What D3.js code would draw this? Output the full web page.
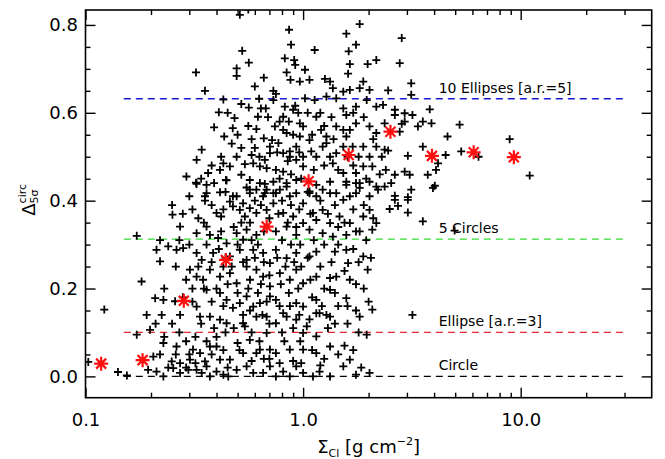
<!DOCTYPE html>
<html>
<head>
<meta charset="utf-8">
<script src="https://d3js.org/d3.v7.min.js"></script>
<style>
body { margin: 0; background: #fff; }
</style>
</head>
<body>
<div id="chart"></div>
<script>

// cloud of individual measurements: [Sigma_Cl (g cm^-2), Delta_5sigma^circ]
var cloudPoints = [
  [0.512,0.823],[0.56,0.835],[0.862,0.789],[0.88,0.755],[1.13,0.743],[1.82,0.802],[1.58,0.78],[1.75,0.755],[1.62,0.74],[0.525,0.741],
  [0.563,0.714],[0.495,0.701],[0.495,0.684],[0.322,0.692],[0.824,0.724],[0.91,0.72],[0.92,0.709],[1.02,0.698],[0.84,0.692],[0.875,0.675],
  [0.966,0.671],[1.07,0.675],[1.26,0.677],[1.33,0.671],[1.61,0.689],[1.64,0.711],[1.98,0.711],[2.17,0.72],[1.89,0.671],[0.354,0.65],
  [0.41,0.601],[0.484,0.588],[0.39,0.567],[0.434,0.546],[0.475,0.565],[0.563,0.612],[0.628,0.632],[0.64,0.61],[0.73,0.65],[0.75,0.643],
  [0.824,0.614],[0.92,0.616],[0.73,0.629],[0.674,0.61],[0.81,0.591],[0.9,0.607],[1.02,0.633],[1.13,0.629],[1.15,0.591],[1.28,0.637],
  [1.37,0.656],[1.42,0.633],[1.53,0.648],[1.64,0.652],[1.82,0.656],[2.02,0.652],[1.53,0.61],[1.58,0.595],[1.75,0.614],[1.96,0.629],
  [2.17,0.614],[0.56,0.57],[0.62,0.591],[0.61,0.563],[0.742,0.569],[0.81,0.561],[0.66,0.542],[0.72,0.538],[0.84,0.554],[0.9,0.55],
  [0.966,0.576],[1.0,0.569],[0.966,0.546],[1.07,0.538],[1.21,0.561],[1.28,0.546],[1.42,0.569],[1.53,0.561],[1.64,0.561],[1.75,0.576],
  [2.02,0.569],[2.17,0.554],[0.342,0.516],[0.324,0.493],[0.495,0.5],[0.43,0.485],[0.415,0.47],[0.461,0.478],[0.366,0.463],[0.291,0.455],
  [0.322,0.441],[0.36,0.436],[0.442,0.447],[0.52,0.459],[0.54,0.483],[0.58,0.504],[0.59,0.485],[0.633,0.478],[0.667,0.493],[0.704,0.523],
  [0.77,0.531],[0.81,0.508],[0.869,0.512],[0.93,0.523],[0.704,0.508],[0.68,0.474],[0.75,0.47],[0.81,0.466],[0.869,0.5],[0.93,0.493],
  [1.0,0.5],[1.0,0.478],[1.09,0.512],[1.15,0.5],[1.23,0.523],[1.28,0.531],[1.33,0.5],[1.42,0.508],[1.53,0.523],[1.58,0.546],
  [1.69,0.523],[1.89,0.523],[2.02,0.5],[2.17,0.523],[1.37,0.485],[1.89,0.478],[2.08,0.478],[1.75,0.463],[1.53,0.463],[0.569,0.447],
  [0.633,0.44],[0.68,0.425],[0.73,0.443],[0.84,0.432],[0.93,0.447],[1.15,0.436],[1.23,0.425],[1.33,0.443],[1.58,0.443],[1.82,0.44],
  [2.02,0.443],[2.21,0.425],[0.36,0.417],[0.415,0.419],[0.476,0.41],[0.569,0.425],[0.655,0.41],[0.75,0.417],[0.869,0.41],[1.07,0.417],
  [1.42,0.417],[1.75,0.417],
  [0.324,0.438],[0.445,0.446],[0.354,0.41],[0.354,0.40],[0.461,0.398],[0.495,0.41],[0.53,0.394],[0.569,0.417],[0.61,0.425],[0.667,0.438],
  [0.667,0.417],[0.73,0.417],[0.782,0.425],[0.84,0.44],[0.93,0.417],[1.0,0.394],[1.07,0.421],[1.15,0.41],[1.33,0.417],[1.53,0.402],
  [1.64,0.41],[1.82,0.429],[2.02,0.41],[2.17,0.432],[1.58,0.436],[1.75,0.44],
  [0.251,0.368],[0.272,0.341],[0.33,0.36],[0.36,0.341],[0.40,0.372],[0.42,0.364],[0.476,0.387],[0.512,0.379],[0.54,0.364],[0.569,0.383],
  [0.61,0.372],[0.68,0.379],[0.73,0.394],[0.81,0.372],[0.90,0.364],[1.0,0.349],[1.11,0.372],[1.15,0.356],[1.23,0.379],[1.33,0.349],
  [1.47,0.364],[1.64,0.349],[1.89,0.364],[2.17,0.349],[2.02,0.379],
  [0.172,0.32],[0.324,0.326],[0.373,0.322],[0.407,0.315],[0.445,0.303],[0.495,0.326],[0.53,0.311],[0.55,0.334],[0.61,0.322],[0.75,0.33],
  [0.84,0.341],[0.93,0.322],[1.07,0.334],[1.23,0.326],[1.37,0.318],[1.58,0.322],[1.82,0.33],[2.08,0.334],
  [0.212,0.288],[0.24,0.296],[0.262,0.288],[0.281,0.292],[0.324,0.281],[0.342,0.265],[0.386,0.281],[0.461,0.273],[0.512,0.288],[0.55,0.265],
  [0.59,0.288],[0.655,0.281],[0.704,0.258],[0.75,0.288],[0.84,0.269],[0.93,0.281],[1.07,0.273],[1.15,0.284],[1.40,0.284],[1.58,0.288],
  [1.61,0.258],[1.89,0.273],
  [0.181,0.216],[0.22,0.262],[0.302,0.243],[0.324,0.227],[0.347,0.22],[0.373,0.243],[0.415,0.227],[0.461,0.235],[0.495,0.212],[0.55,0.25],
  [0.61,0.243],[0.655,0.227],[0.704,0.205],[0.782,0.235],[0.869,0.22],[0.93,0.243],[1.0,0.212],[1.15,0.227],[1.33,0.224],[1.42,0.227],
  [1.64,0.22],[1.98,0.243],
  [0.209,0.178],[0.228,0.174],[0.258,0.171],[0.324,0.159],[0.36,0.197],[0.415,0.19],[0.445,0.174],[0.476,0.156],[0.512,0.167],[0.55,0.182],
  [0.59,0.159],[0.633,0.167],[0.704,0.182],[0.75,0.174],[0.81,0.144],[0.93,0.167],[1.0,0.159],[1.15,0.174],[1.33,0.197],[1.58,0.178],
  [1.82,0.136],[2.08,0.152],[1.15,0.144],[1.33,0.136],
  [0.191,0.14],[0.224,0.14],[0.272,0.14],[0.336,0.136],[0.373,0.136],[0.415,0.129],[0.445,0.121],[0.53,0.121],[0.54,0.114],[0.61,0.136],
  [0.68,0.136],[0.75,0.121],[0.84,0.136],[0.93,0.129],[1.04,0.114],[1.19,0.144],[1.28,0.14],[0.68,0.099],[1.0,0.099],[1.15,0.091],
  [1.96,0.095],[0.198,0.106],[0.172,0.095],
  [0.228,0.076],[0.262,0.068],[0.312,0.061],[0.336,0.053],[0.373,0.068],[0.40,0.068],[0.50,0.076],[0.569,0.083],[0.633,0.061],[0.704,0.061],
  [0.75,0.053],[0.869,0.061],[1.0,0.061],[1.15,0.053],[1.33,0.068],[1.64,0.038],[0.205,0.045],[0.249,0.034],[0.272,0.03],[0.302,0.038],
  [0.354,0.034],[0.415,0.038],[0.461,0.038],[0.53,0.053],[0.61,0.053],
  [0.194,0.015],[0.212,0.011],[0.228,0.0],[0.253,0.019],[0.272,0.008],[0.297,0.015],[0.324,0.015],[0.342,0.008],[0.36,0.023],[0.373,0.0],
  [0.40,0.011],[0.43,0.004],[0.453,0.0],[0.495,0.015],[0.55,0.023],[0.59,0.008],[0.655,0.008],[0.704,0.023],[0.75,0.0],[0.81,0.011],
  [0.869,0.0],[0.93,0.023],[1.0,0.008],[1.11,0.0],[1.19,0.011],[1.33,0.0],[1.53,0.023],[1.75,0.004],[2.02,0.008],
  [3.14,0.667],[3.14,0.641],[2.46,0.651],[2.33,0.618],[2.64,0.607],[2.64,0.595],[2.93,0.599],[3.18,0.595],[3.82,0.608],[2.93,0.58],
  [2.84,0.575],[3.55,0.58],[3.89,0.576],[3.37,0.569],[5.24,0.573],[2.37,0.576],[2.78,0.557],[4.61,0.546],[8.9,0.54],[2.37,0.516],
  [2.46,0.514],[3.03,0.502],[3.55,0.523],[4.52,0.504],[5.33,0.512],[6.4,0.5],[4.17,0.485],[4.08,0.47],[11.0,0.457],[2.64,0.459],
  [2.93,0.466],[3.09,0.459],[3.74,0.459],[4.03,0.434],[2.54,0.44],[2.37,0.432],[3.14,0.425],[2.64,0.411],[3.03,0.408],[3.95,0.429],
  [2.5,0.381],[2.73,0.388],[3.03,0.373],[3.03,0.402],[2.64,0.402],[3.55,0.353],[4.97,0.332],[3.18,0.14],[2.84,0.77],[2.78,0.713],
  [0.122,0.152],[0.141,0.01],[0.155,0.002],[0.103,0.033],
  [0.47,0.53],[0.5,0.55],[0.52,0.52],[0.58,0.54],[0.6,0.52],[0.63,0.5],[0.55,0.43],[0.6,0.4],[0.64,0.39],[0.7,0.36],
  [0.52,0.35],[0.57,0.35],[0.48,0.34],[0.66,0.33],[0.62,0.3],[0.58,0.31],[0.5,0.3],[0.47,0.25],[0.53,0.26],[0.6,0.27],
  [0.66,0.26],[0.57,0.22],[0.64,0.21],[0.7,0.23],[0.5,0.19],[0.56,0.2],[0.62,0.19],[0.68,0.17],[0.53,0.14],[0.57,0.15],
  [0.65,0.14],[0.7,0.12],[0.48,0.11],[0.58,0.1],[0.63,0.08],[0.51,0.06],[0.66,0.04],[0.58,0.035],[0.7,0.04],
  [0.78,0.58],[0.86,0.58],[0.95,0.6],[0.76,0.51],[0.85,0.49],[0.96,0.51],[0.78,0.45],[0.88,0.46],[0.98,0.45],[0.8,0.4],
  [0.88,0.39],[0.96,0.38],[0.77,0.37],[0.85,0.35],[0.93,0.34],[0.8,0.31],[0.88,0.3],[0.97,0.3],[0.76,0.27],[0.83,0.25],
  [0.91,0.26],[0.98,0.25],[0.79,0.21],[0.86,0.19],[0.95,0.2],[0.78,0.16],[0.87,0.16],[0.96,0.14],[0.8,0.1],[0.9,0.11],
  [0.97,0.08],[0.82,0.08],[0.78,0.03],[0.9,0.035],[0.98,0.03],
  [1.05,0.6],[1.2,0.6],[1.35,0.59],[1.1,0.55],[1.25,0.57],[1.38,0.54],[1.12,0.47],[1.25,0.48],[1.45,0.47],[1.05,0.42],
  [1.2,0.4],[1.4,0.39],[1.08,0.37],[1.3,0.37],[1.45,0.34],[1.12,0.31],[1.25,0.3],[1.45,0.3],[1.05,0.27],[1.2,0.25],
  [1.35,0.26],[1.08,0.22],[1.25,0.2],[1.4,0.19],[1.1,0.18],[1.22,0.16],[1.45,0.16],[1.07,0.13],[1.3,0.11],[1.4,0.12],
  [1.1,0.06],[1.25,0.04],[1.45,0.05],[1.2,0.025],
  [1.7,0.6],[1.9,0.59],[1.6,0.5],[1.8,0.5],[2.1,0.54],[1.7,0.48],[1.95,0.45],[1.7,0.38],[1.9,0.39],[2.1,0.36],
  [1.55,0.35],[1.75,0.33],[1.95,0.31],[1.7,0.29],[1.8,0.26],[2.05,0.27],[1.55,0.24],[1.75,0.21],[1.9,0.2],[1.6,0.16],
  [1.75,0.15],[2.0,0.17],[1.6,0.12],[1.8,0.1],[1.55,0.07],[1.7,0.06],[1.85,0.02],
  [0.3,0.41],[0.34,0.45],[0.38,0.48],[0.42,0.5],[0.39,0.44],[0.44,0.42],[0.31,0.38],[0.38,0.39],[0.43,0.38],[0.35,0.35],
  [0.42,0.33],[0.3,0.3],[0.36,0.3],[0.41,0.29],[0.44,0.27],[0.33,0.25],[0.38,0.26],[0.43,0.25],[0.31,0.2],[0.35,0.2],
  [0.4,0.2],[0.45,0.21],[0.31,0.17],[0.38,0.17],[0.43,0.16],[0.34,0.12],[0.39,0.11],[0.44,0.1],[0.32,0.09],[0.4,0.09],
  [0.36,0.08],[0.43,0.06],[0.3,0.05],[0.38,0.05],[0.45,0.02],[0.32,0.03],
  [0.25,0.39],[0.28,0.37],[0.22,0.31],[0.27,0.31],[0.26,0.25],[0.29,0.22],[0.23,0.2],[0.28,0.18],[0.21,0.12],[0.25,0.12],
  [0.27,0.1],[0.23,0.09],[0.29,0.08],[0.22,0.05],[0.26,0.05],[0.24,0.02],[0.29,0.02],
  [0.45,0.6],[0.52,0.62],[0.6,0.66],[0.66,0.68],[0.43,0.63],[0.69,0.59],
  [2.3,0.5],[2.25,0.46],[2.4,0.47]
];

// binned medians (red asterisks)
var medianSigma = [0.118, 0.183, 0.283, 0.442, 0.68, 1.06, 1.62, 2.52, 3.91, 6.08, 9.3];
var medianDelta = [0.029, 0.037, 0.172, 0.265, 0.341, 0.444, 0.504, 0.557, 0.502, 0.51, 0.499];

// reference shapes (dashed lines)
var refLevels = [0, 0.1, 0.3125, 0.632];
var refLabels = ["Circle", "Ellipse [a.r.=3]", "5 Circles", "10 Ellipses [a.r.=5]"];
var refSpan = [0.15, 30];
var refLabelSigma = 4.2;

// axes
var xMajor = [0.1, 1, 10];
var xMajorLabels = ["0.1", "1.0", "10.0"];
var xMinor = [0.2, 0.3, 0.4, 0.5, 0.6, 0.7, 0.8, 0.9, 2, 3, 4, 5, 6, 7, 8, 9, 20, 30];
var yMajor = [0, 0.2, 0.4, 0.6, 0.8];
var yMajorLabels = ["0.0", "0.2", "0.4", "0.6", "0.8"];
var yMinor = [0.05, 0.1, 0.15, 0.25, 0.3, 0.35, 0.45, 0.5, 0.55, 0.65, 0.7, 0.75];

var W = 665, H = 459;
var margin = {top: 10, right: 13.3, bottom: 61.3, left: 85.5};
var width = W - margin.left - margin.right,
    height = H - margin.top - margin.bottom;

var svg = d3.select("#chart")
  .append("svg")
    .attr("width", W)
    .attr("height", H)
    .style("font-family", "'DejaVu Sans', sans-serif")
  .append("g")
    .attr("transform", "translate(" + margin.left + "," + margin.top + ")");

var x = d3.scaleLog().domain([0.1, 40]).range([0, width]);
var y = d3.scaleLinear().domain([-0.0485, 0.834]).range([height, 0]);

var colour = d3.scaleOrdinal()
  .domain(refLabels)
  .range(["#000000", "#e8262a", "#33dd33", "#1a1ad8"]);

// clip for marks
svg.append("clipPath").attr("id", "plotclip")
  .append("rect").attr("width", width).attr("height", height);

// reference lines
svg.append("g").selectAll("line").data(refLevels).enter().append("line")
  .attr("x1", x(refSpan[0])).attr("x2", x(refSpan[1]))
  .attr("y1", function(d) { return y(d); })
  .attr("y2", function(d) { return y(d); })
  .attr("stroke", function(d, i) { return colour(refLabels[i]); })
  .attr("stroke-width", 1.3)
  .attr("stroke-dasharray", "7,5");

svg.append("g").selectAll("text").data(refLevels).enter().append("text")
  .attr("x", x(refLabelSigma))
  .attr("y", function(d) { return y(d) - 6; })
  .attr("font-size", "14px")
  .attr("fill", "#000")
  .text(function(d, i) { return refLabels[i]; });

// crosses
var cloud = svg.append("g").attr("clip-path", "url(#plotclip)");
cloud.selectAll("path").data(cloudPoints).enter().append("path")
  .attr("transform", function(d) { return "translate(" + x(d[0]) + "," + y(d[1]) + ")"; })
  .attr("d", "M-4,0H4M0,-4V4")
  .attr("stroke", "#000")
  .attr("stroke-width", 1.8)
  .attr("fill", "none");

// asterisks
svg.append("g").selectAll("path").data(medianSigma).enter().append("path")
  .attr("transform", function(d, i) { return "translate(" + x(d) + "," + y(medianDelta[i]) + ")"; })
  .attr("d", "M-7,0H7M0,-7V7M-5,-5L5,5M-5,5L5,-5")
  .attr("stroke", "#ff1010")
  .attr("stroke-width", 2.2)
  .attr("fill", "none");

// axes, ticks pointing inward on all four sides
function drawAxis(axisFn, ticks, size, transform, labels) {
  var a = axisFn.tickValues(ticks).tickSizeOuter(0).tickSize(-size)
    .tickFormat(labels ? function(d, i) { return labels[i]; } : "");
  var g = svg.append("g").attr("transform", transform || null).call(a);
  g.select(".domain").remove();
  g.selectAll("line").attr("stroke", "#000").attr("stroke-width", 1.4);
  g.selectAll("text").attr("font-size", "18px").attr("fill", "#000")
    .style("font-family", "'DejaVu Sans', sans-serif");
  return g;
}

drawAxis(d3.axisBottom(x).tickPadding(16), xMajor, 10, "translate(0," + height + ")", xMajorLabels);
drawAxis(d3.axisBottom(x), xMinor, 5, "translate(0," + height + ")");
drawAxis(d3.axisTop(x), xMajor, 10, null);
drawAxis(d3.axisTop(x), xMinor, 5, null);
drawAxis(d3.axisLeft(y).tickPadding(7.5), yMajor, 10, null, yMajorLabels);
drawAxis(d3.axisLeft(y), yMinor, 5, null);
drawAxis(d3.axisRight(y), yMajor, 10, "translate(" + width + ",0)");
drawAxis(d3.axisRight(y), yMinor, 5, "translate(" + width + ",0)");

// frame
svg.append("rect")
  .attr("width", width).attr("height", height)
  .attr("fill", "none").attr("stroke", "#000").attr("stroke-width", 1.6);

// x title
var xt = svg.append("text")
  .attr("x", width / 2).attr("y", height + 55)
  .attr("text-anchor", "middle")
  .attr("font-size", "18px");
xt.append("tspan").text("\u03A3");
xt.append("tspan").attr("font-size", "11px").attr("dy", 4).text("Cl");
xt.append("tspan").attr("dy", -4).text(" [g cm");
xt.append("tspan").attr("font-size", "11px").attr("dy", -8).text("\u22122");
xt.append("tspan").attr("dy", 8).text("]");

// y title
var yt = svg.append("text")
  .attr("transform", "translate(" + (35 - margin.left) + "," + (height / 2 - 4) + ") rotate(-90)")
  .attr("text-anchor", "middle")
  .attr("font-size", "18px");
yt.append("tspan").text("\u0394");
var sup = yt.append("tspan").attr("font-size", "11px").attr("dy", -9).text("circ");
var supW = sup.node().getComputedTextLength();
yt.append("tspan").attr("font-size", "11px").attr("dx", -supW).attr("dy", 12).text("5\u03C3");

</script>
</body>
</html>
